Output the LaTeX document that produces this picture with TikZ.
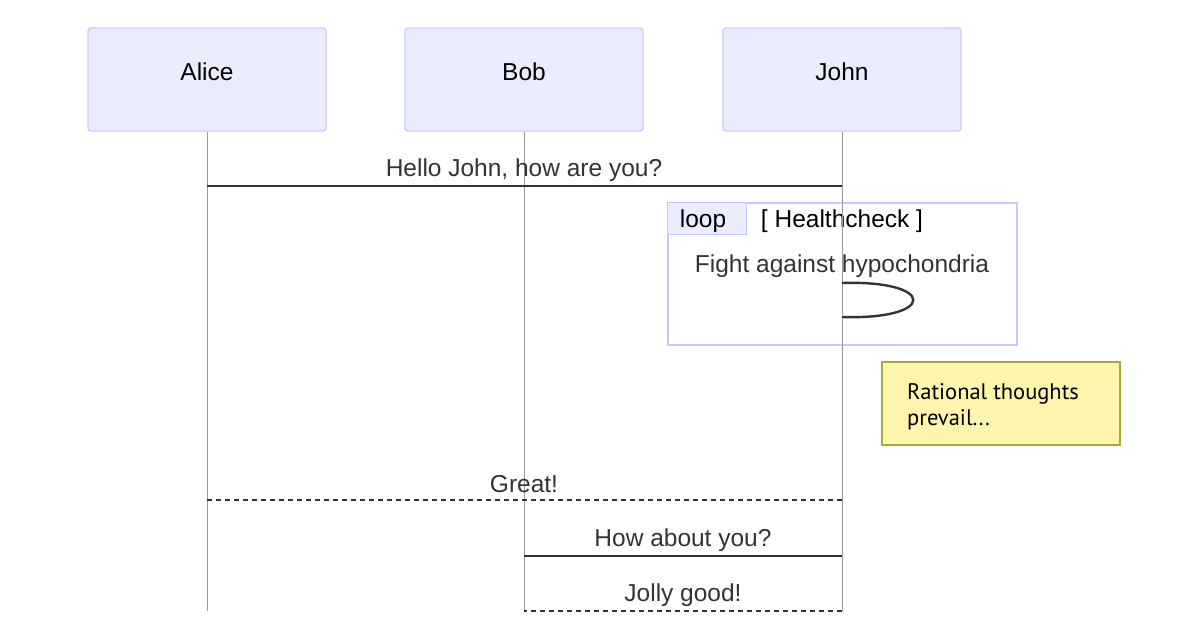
\documentclass[tikz,border=0pt]{standalone}
\usepackage{fontspec}
\setmainfont{Liberation Sans}
\newfontfamily\notefont{PT Sans}
\definecolor{actfill}{HTML}{ECECFF}
\definecolor{actdraw}{HTML}{CCCCFF}
\definecolor{loopdraw}{HTML}{C8C8FF}
\definecolor{msg}{HTML}{333333}
\definecolor{life}{HTML}{999999}
\definecolor{notefill}{HTML}{FFF5AD}
\definecolor{notedraw}{HTML}{AAAA33}
\begin{document}
\begin{tikzpicture}[x=1pt,y=-1pt,
  actor/.style={draw=actdraw,fill=actfill,line width=1.4pt,rounded corners=3pt,minimum width=238pt,minimum height=103pt,inner sep=0pt},
  actortext/.style={font=\fontsize{24.5}{28}\selectfont,inner sep=0pt},
  lifeline/.style={draw=life,line width=1pt},
  msgline/.style={draw=msg,line width=2.4pt},
  reply/.style={draw=msg,line width=2.4pt,dash pattern=on 5pt off 4pt},
  msgtext/.style={text=msg,font=\fontsize{24.5}{28}\selectfont,inner sep=0pt},
  notebox/.style={draw=notedraw,fill=notefill,line width=1.4pt,minimum width=238pt,minimum height=83pt,inner sep=0pt}
]
\useasboundingbox (0,0) rectangle (1200,640);
% actors
\node[actor] (alice) at (207,79.5) {};
\node[actor] (bob) at (524,79.5) {};
\node[actor] (john) at (842,79.5) {};
\node[actortext] (alicet) at (207,72) {Alice};
\node[actortext] (bobt) at (524,72) {Bob};
\node[actortext] (johnt) at (842,72) {John};
\coordinate (aliceend) at (207,611);
\coordinate (bobend) at (524,611);
\coordinate (johnend) at (842,611);
% loop frame
\node[draw=loopdraw,line width=2.6pt,minimum width=349pt,minimum height=142pt,inner sep=0pt] (loopbox) at (842.5,274) {};
\node[draw=loopdraw,fill=actfill,line width=1.4pt,minimum width=79pt,minimum height=32pt,inner sep=0pt,anchor=north west] (looplabel) at (loopbox.north west) {};
\node[msgtext,text=black] (looptext) at (703,221) {loop};
\node[msgtext,text=black] (cond) at (842,221) {[ Healthcheck ]};
% lifelines
\draw[lifeline] (alice.south) -- (aliceend);
\draw[lifeline] (bob.south) -- (bobend);
\draw[lifeline] (john.south) -- (johnend);
% message 1
\coordinate (m1a) at (207,186);
\coordinate (m1j) at (842,186);
\draw[msgline] (m1a) -- (m1j);
\node[msgtext] (t1) at (524,170.5) {Hello John, how are you?};
% self message
\node[msgtext] (t2) at (842,266.5) {Fight against hypochondria};
\coordinate (s1) at (842,283);
\coordinate (s2) at (842,317);
\draw[draw=msg,line width=2.4pt] (s1) .. controls (937,280) and (937,320) .. (s2);
% note
\node[notebox] (note) at (1001,403.5) {};
\node[anchor=north west,align=left,inner sep=0pt,font=\notefont\fontsize{22.5}{26}\selectfont] (notetext) at (907,383) {Rational thoughts\\prevail...};
% Great!
\coordinate (m3j) at (842,500);
\coordinate (m3a) at (207,500);
\draw[reply] (m3j) -- (m3a);
\node[msgtext] (t3) at (524,484.5) {Great!};
% How about you?
\coordinate (m4b) at (524,556);
\coordinate (m4j) at (842,556);
\draw[msgline] (m4b) -- (m4j);
\node[msgtext] (t4) at (683,540.5) {How about you?};
% Jolly good!
\coordinate (m5j) at (842,611);
\coordinate (m5b) at (524,611);
\draw[reply] (m5j) -- (m5b);
\node[msgtext] (t5) at (683,595.5) {Jolly good!};
\end{tikzpicture}
\end{document}
